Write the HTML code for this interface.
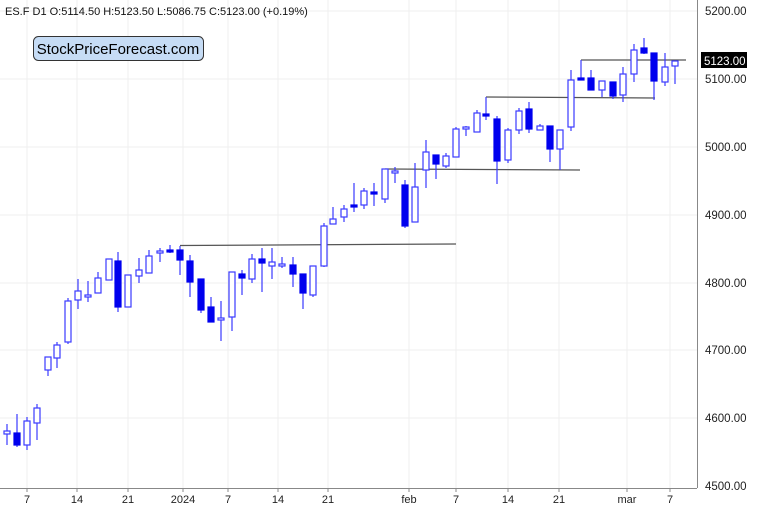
<!DOCTYPE html>
<html><head><meta charset="utf-8"><style>
body{margin:0;background:#fff}
svg{display:block;font-family:"Liberation Sans",sans-serif}
</style></head><body>
<svg width="768" height="510" xmlns="http://www.w3.org/2000/svg">
<rect width="768" height="510" fill="#fff"/>
<g stroke="#efefef" stroke-width="1">
<line x1="27" y1="0" x2="27" y2="488"/><line x1="77" y1="0" x2="77" y2="488"/><line x1="128" y1="0" x2="128" y2="488"/><line x1="183" y1="0" x2="183" y2="488"/><line x1="228" y1="0" x2="228" y2="488"/><line x1="278" y1="0" x2="278" y2="488"/><line x1="328" y1="0" x2="328" y2="488"/><line x1="409" y1="0" x2="409" y2="488"/><line x1="456" y1="0" x2="456" y2="488"/><line x1="508" y1="0" x2="508" y2="488"/><line x1="559" y1="0" x2="559" y2="488"/><line x1="627" y1="0" x2="627" y2="488"/><line x1="670" y1="0" x2="670" y2="488"/>
<line x1="0" y1="11" x2="697" y2="11"/><line x1="0" y1="79" x2="697" y2="79"/><line x1="0" y1="147" x2="697" y2="147"/><line x1="0" y1="215" x2="697" y2="215"/><line x1="0" y1="283" x2="697" y2="283"/><line x1="0" y1="350" x2="697" y2="350"/><line x1="0" y1="418" x2="697" y2="418"/>
</g>
<g stroke="#555" stroke-width="1.3" fill="none">
<line x1="180" y1="245.5" x2="456" y2="244"/>
<line x1="385" y1="169" x2="580" y2="170"/>
<line x1="486" y1="97" x2="655" y2="98"/>
<line x1="581" y1="60" x2="686" y2="60"/>
</g>
<g id="c"></g>
<line x1="697.5" y1="0" x2="697.5" y2="488" stroke="#888"/>
<line x1="0" y1="488.5" x2="697" y2="488.5" stroke="#888"/>
<g stroke="#888">
<line x1="27" y1="488" x2="27" y2="492"/><line x1="77" y1="488" x2="77" y2="492"/><line x1="128" y1="488" x2="128" y2="492"/><line x1="183" y1="488" x2="183" y2="492"/><line x1="228" y1="488" x2="228" y2="492"/><line x1="278" y1="488" x2="278" y2="492"/><line x1="328" y1="488" x2="328" y2="492"/><line x1="409" y1="488" x2="409" y2="492"/><line x1="456" y1="488" x2="456" y2="492"/><line x1="508" y1="488" x2="508" y2="492"/><line x1="559" y1="488" x2="559" y2="492"/><line x1="627" y1="488" x2="627" y2="492"/><line x1="670" y1="488" x2="670" y2="492"/>
</g>
<g font-size="11" fill="#222" text-anchor="middle">
<text x="27" y="503">7</text><text x="77" y="503">14</text><text x="128" y="503">21</text><text x="183" y="503">2024</text><text x="228" y="503">7</text><text x="278" y="503">14</text><text x="328" y="503">21</text><text x="409" y="503">feb</text><text x="456" y="503">7</text><text x="508" y="503">14</text><text x="559" y="503">21</text><text x="627" y="503">mar</text><text x="670" y="503">7</text>
</g>
<g font-size="11.5" fill="#222">
<text x="705" y="15">5200.00</text><text x="705" y="83">5100.00</text><text x="705" y="151">5000.00</text><text x="705" y="219">4900.00</text><text x="705" y="287">4800.00</text><text x="705" y="354">4700.00</text><text x="705" y="422">4600.00</text><text x="705" y="490">4500.00</text>
</g>
<rect x="701" y="52" width="46" height="16" fill="#000"/>
<text x="704" y="65" font-size="11.5" fill="#fff">5123.00</text>
<text x="5" y="15" font-size="11" fill="#111">ES.F  D1  O:5114.50  H:5123.50  L:5086.75  C:5123.00  (+0.19%)</text>
<rect x="33.5" y="36.5" width="170" height="24" rx="5" fill="#c6dcf5" stroke="#333"/>
<text x="118" y="54" font-size="15" fill="#000" text-anchor="middle">StockPriceForecast.com</text>
</svg>
<script>
var d=[[7,431,434,424,445,0],[17,433,445,414,447,1],[27,421,445,417,450,0],[37,408,423,404,440,0],
[48,357,370,357,376,0],[57,345,358,342,368,0],[68,301,342,298,344,0],[78,291,300,279,309,0],[88,295,297,281,302,0],[98,278,293,272,293,0],[109,259,280,259,280,0],[118,261,307,252,312,1],[128,275,307,275,307,0],[139,270,276,258,283,0],[149,256,273,250,273,0],[160,251,253,248,262,0],[170,250,252,245,253,1],[180,250,260,246,275,1],[190,261,282,255,297,1],[201,279,310,279,313,1],[211,307,322,297,322,1],[221,318,320,301,341,0],[232,272,317,272,331,0],
[242,274,278,270,295,1],[252,259,279,254,283,0],[262,259,263,248,292,1],[272,262,266,248,279,0],[282,264,266,257,268,0],[293,265,274,257,287,1],[303,274,293,274,309,1],[313,266,295,266,297,0],[324,226,266,223,267,0],[333,219,224,207,224,0],[344,209,217,205,222,0],[354,205,207,183,212,1],[364,191,205,188,209,0],[374,192,194,183,206,1],[385,169,199,169,203,0],[395,171,173,167,183,0],[405,185,226,180,228,1],[415,187,222,163,222,0],[426,152,170,140,188,0],[436,155,164,155,179,1],[446,156,166,153,168,0],[456,129,157,127,157,0],[466,127,129,126,136,0],
[477,113,132,110,132,0],[486,114,116,97,120,1],[497,119,161,116,184,1],[508,130,160,128,163,0],[519,111,130,108,134,0],[529,109,129,102,133,1],[540,126,130,124,130,0],[550,126,149,126,162,1],[560,130,149,130,170,0],[571,80,127,70,131,0],[581,78,80,60,80,1],[591,78,90,70,90,1],[602,81,90,81,97,0],[613,82,96,82,99,1],[623,74,95,67,102,0],[634,50,74,44,82,0],[644,48,53,38,54,1],[654,53,81,53,100,1],[665,67,82,53,86,0],[675,61,66,61,84,0]];
var s='';d.forEach(function(c){var x=c[0],t=Math.min(c[1],c[2]),b=Math.max(c[1],c[2]);if(b-t<2)b=t+2;
s+='<line x1="'+x+'" y1="'+c[3]+'" x2="'+x+'" y2="'+c[4]+'" stroke="#3a3aff" stroke-width="1.2"/>';
s+='<rect x="'+(x-3)+'" y="'+t+'" width="6" height="'+(b-t)+'" fill="'+(c[5]?'#0000ee':'#fff')+'" stroke="'+(c[5]?'#0000ee':'#3a3aff')+'" stroke-width="1.2"/>';});
document.getElementById('c').innerHTML=s;
</script>
</body></html>
